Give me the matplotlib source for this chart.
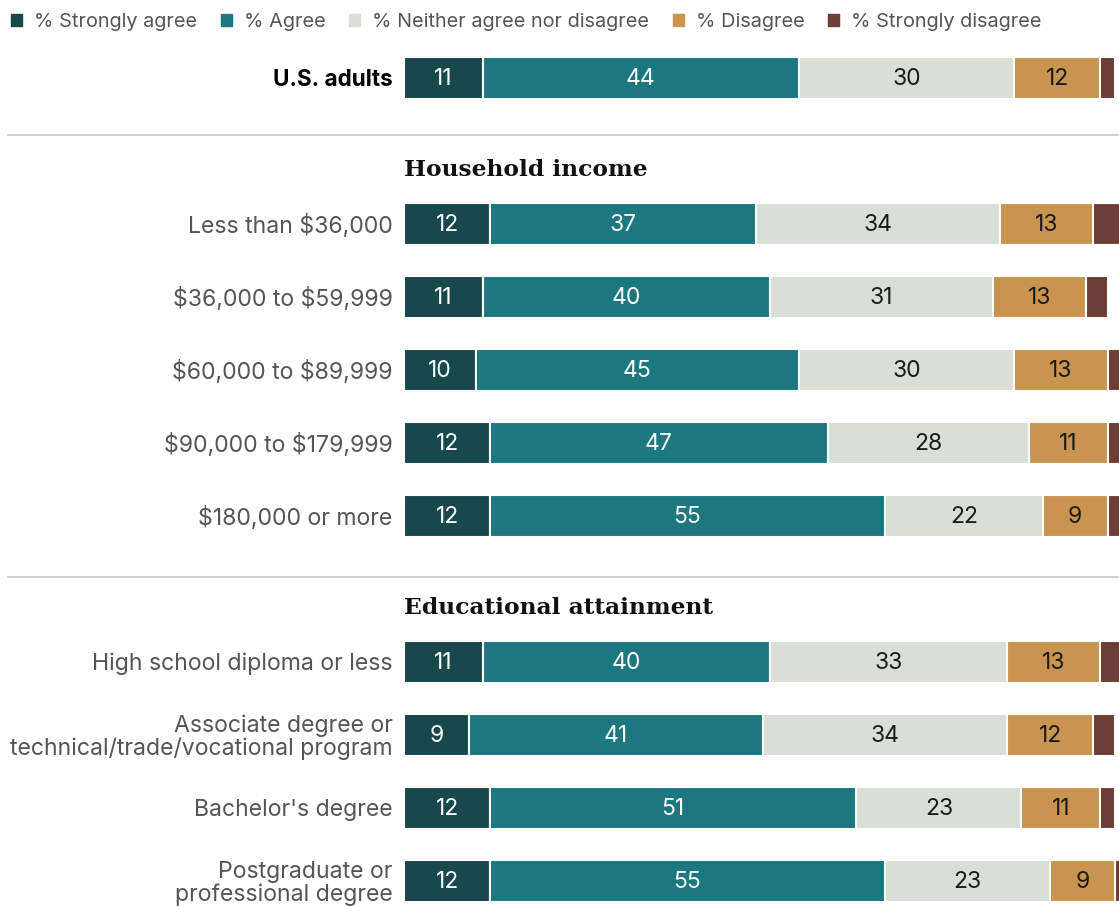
import numpy as np
import matplotlib.pyplot as plt
from matplotlib.patches import Patch

plt.rcParams['font.family'] = ['Inter', 'DejaVu Sans']
plt.rcParams['text.parse_math'] = False

# data
groups = ['U.S. adults',
          'Less than $36,000', '$36,000 to $59,999', '$60,000 to $89,999',
          '$90,000 to $179,999', '$180,000 or more',
          'High school diploma or less',
          'Associate degree or\ntechnical/trade/vocational program',
          "Bachelor's degree", 'Postgraduate or\nprofessional degree']
slots = [0, 2, 3, 4, 5, 6, 8, 9, 10, 11]
strongly_agree = [11, 12, 11, 10, 12, 12, 11, 9, 12, 12]
agree = [44, 37, 40, 45, 47, 55, 40, 41, 51, 55]
neither = [30, 34, 31, 30, 28, 22, 33, 34, 23, 23]
disagree = [12, 13, 13, 13, 11, 9, 13, 12, 11, 9]
strongly_disagree = [2, 4, 3, 2, 2, 2, 3, 3, 2, 1]

series_names = ['% Strongly agree', '% Agree', '% Neither agree nor disagree',
                '% Disagree', '% Strongly disagree']
colors = ['#17484c', '#1b7780', '#d9ded6', '#c9944f', '#6b3f37']
text_colors = ['white', 'white', '#1a1a1a', '#1a1a1a', None]

headers = ['Household income', 'Educational attainment']
header_slots = [1.26, 7.26]
sep_slots = [0.78, 6.84]

fig = plt.figure(figsize=(11.19, 9.07), dpi=100)
ax = fig.add_axes([404 / 1119, 0, 1 - 404 / 1119, 1])
ax.set_xlim(0, 99.6)
ax.set_ylim((907 - 78) / 73, -78 / 73)
ax.axis('off')

data = np.array([strongly_agree, agree, neither, disagree, strongly_disagree])
left = np.zeros(len(groups))
for k in range(5):
    ax.barh(slots, data[k], left=left, height=0.575, color=colors[k],
            edgecolor='white', linewidth=1.5)
    if text_colors[k]:
        for s, l, v in zip(slots, left, data[k]):
            ax.text(l + v / 2, s + 0.02, str(v), ha='center', va='center',
                    fontsize=16.5, color=text_colors[k])
    left += data[k]

for i, (s, g) in enumerate(zip(slots, groups)):
    ax.text(-1.6, s + 0.03, g, ha='right', va='center',
            fontsize=16.2 if i == 0 else 16.6,
            color='#000000' if i == 0 else '#555555',
            fontweight='bold' if i == 0 else 'normal',
            linespacing=1.05, clip_on=False)

for h, s in zip(headers, header_slots):
    ax.text(0, s, h, ha='left', va='center', fontsize=16.8,
            family=['DejaVu Serif'], fontweight='bold',
            color='#111111')

for s in sep_slots:
    ax.axhline(s, xmin=-396 / 715, xmax=1, color='#c8c8c8', linewidth=1.2,
               clip_on=False)

handles = [Patch(color=c, label=n) for c, n in zip(colors, series_names)]
fig.legend(handles=handles, loc='upper left', bbox_to_anchor=(-0.006, 1.005),
           ncol=5, frameon=False, fontsize=14.3, handlelength=0.55,
           handleheight=0.55, handletextpad=0.6, columnspacing=1.2,
           labelcolor='#555555')

fig.savefig('out.png', dpi=100)
